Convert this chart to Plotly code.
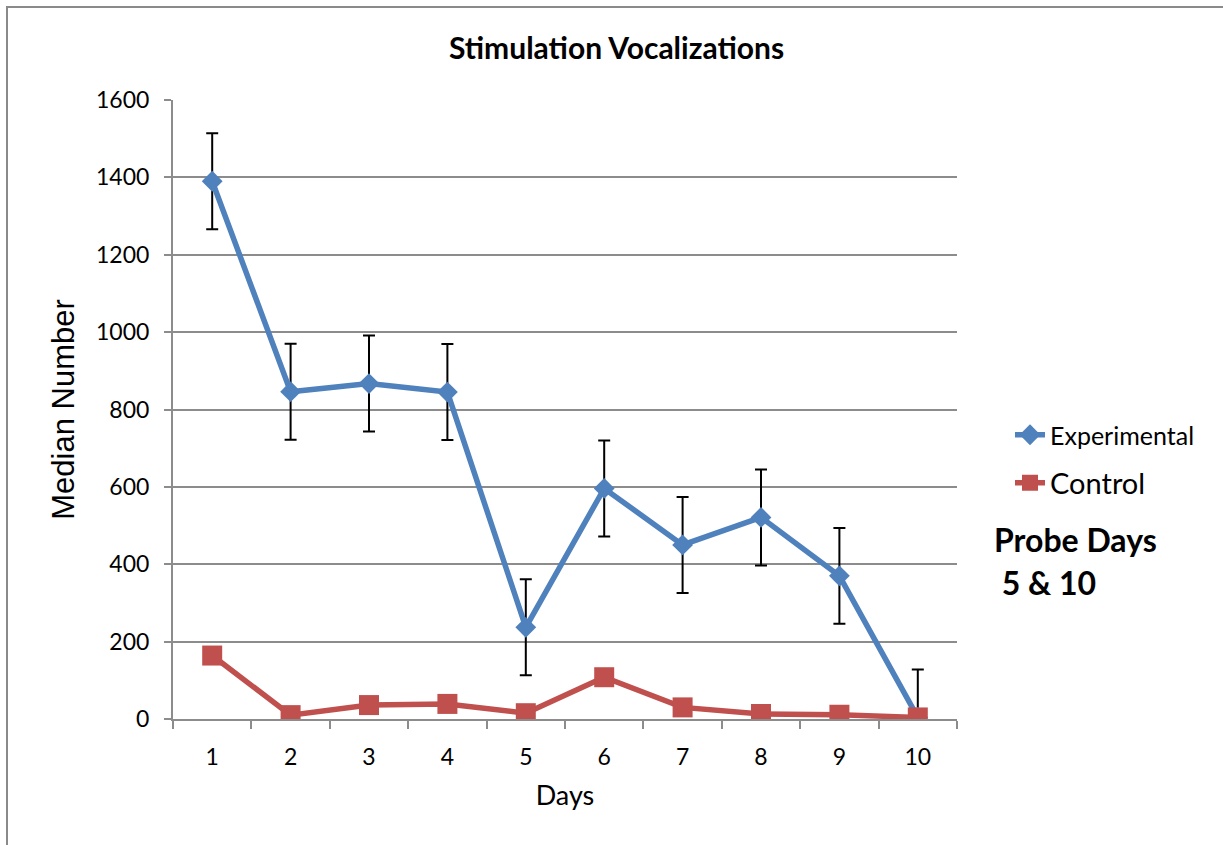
import plotly.graph_objects as go

# Days of the stimulation sessions
days = [1, 2, 3, 4, 5, 6, 7, 8, 9, 10]
day_labels = ["1", "2", "3", "4", "5", "6", "7", "8", "9", "10"]

# Median number of vocalizations per day
experimental = [1390, 846, 867, 845, 237, 596, 450, 521, 370, 4]
experimental_err = [124, 124, 124, 124, 124, 124, 124, 124, 124, 124]
control = [164, 10, 36, 39, 15, 108, 30, 13, 11, 4]

y_ticks = [0, 200, 400, 600, 800, 1000, 1200, 1400, 1600]

BLUE = "#4F81BD"
RED = "#C0504D"
GRID = "#8C8C8C"
FONT = "Lato"

fig = go.Figure()

fig.add_trace(go.Scatter(
    x=days, y=experimental, name="Experimental", mode="lines+markers",
    line=dict(color=BLUE, width=5.5),
    marker=dict(symbol="diamond", size=16, color=BLUE),
    error_y=dict(type="data", array=experimental_err, visible=True,
                 color="black", thickness=2, width=6),
    legend="legend",
))

fig.add_trace(go.Scatter(
    x=days, y=control, name="Control", mode="lines+markers",
    line=dict(color=RED, width=5.5),
    marker=dict(symbol="square", size=20, color=RED),
    legend="legend2",
))

# Outer chart frame
fig.add_shape(type="rect", xref="paper", yref="paper",
              x0=(7 - 173) / 784, x1=(1240 - 173) / 784,
              y0=(719 - 870) / 619, y1=(719 - 7) / 619,
              line=dict(color="#8A8A8A", width=2), fillcolor="rgba(0,0,0,0)",
              layer="below")

fig.add_annotation(text="<b>Stimulation Vocalizations</b>", xref="paper", yref="paper",
                   x=(616 - 173) / 784, y=(719 - 47) / 619, showarrow=False,
                   xanchor="center", yanchor="middle",
                   font=dict(family=FONT, size=30, color="black"))

fig.add_annotation(text="<b>Probe Days</b>", xref="paper", yref="paper",
                   x=(992 - 173) / 784, y=(719 - 539) / 619, showarrow=False,
                   xanchor="left", yanchor="middle",
                   font=dict(family=FONT, size=32, color="black"))
fig.add_annotation(text="<b>\u00a05 & 10</b>", xref="paper", yref="paper",
                   x=(992 - 173) / 784, y=(719 - 582) / 619, showarrow=False,
                   xanchor="left", yanchor="middle",
                   font=dict(family=FONT, size=32, color="black"))

fig.update_layout(
    width=1223, height=845,
    margin=dict(l=173, r=266, t=100, b=126),
    paper_bgcolor="white", plot_bgcolor="white",
    font=dict(family=FONT, color="black"),
    showlegend=True,
    legend=dict(x=(1010 - 173) / 784, y=(719 - 435) / 619, xanchor="left", yanchor="middle",
                bgcolor="rgba(0,0,0,0)", font=dict(family=FONT, size=25, color="black")),
    legend2=dict(x=(1010 - 173) / 784, y=(719 - 483) / 619, xanchor="left", yanchor="middle",
                 bgcolor="rgba(0,0,0,0)", font=dict(family=FONT, size=29, color="black")),
    xaxis=dict(
        range=[0.5, 10.5], tickmode="array", tickvals=days, ticktext=day_labels,
        ticks="", showgrid=False, zeroline=False,
        showline=True, linecolor=GRID, linewidth=2,
        tickfont=dict(family=FONT, size=23, color="black"),
        ticklabelstandoff=16,
        minor=dict(tickmode="linear", tick0=0.5, dtick=1, ticks="outside",
                   ticklen=8, tickwidth=2, tickcolor=GRID, showgrid=False),
        title=dict(text="Days", font=dict(family=FONT, size=27, color="black"), standoff=18),
    ),
    yaxis=dict(
        range=[0, 1600], tickmode="array", tickvals=y_ticks,
        ticks="outside", ticklen=7, tickwidth=2, tickcolor=GRID,
        showgrid=True, gridcolor=GRID, gridwidth=1.5, zeroline=False,
        showline=True, linecolor=GRID, linewidth=2,
        tickfont=dict(family=FONT, size=23, color="black"),
        ticklabelstandoff=10,
        title=dict(text="Median Number", font=dict(family="Liberation Sans", size=31, color="black"),
                   standoff=12),
    ),
)

fig.write_html("out.html")
